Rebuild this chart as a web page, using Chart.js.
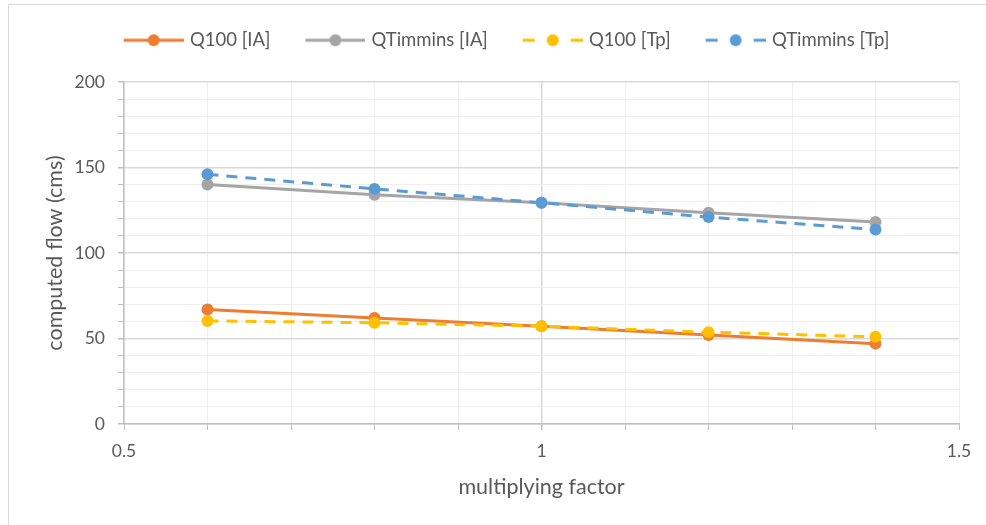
<!DOCTYPE html>
<html lang="en">
<head>
    <meta charset="UTF-8">
    <title>Computed flow vs multiplying factor</title>
    <style>
        body {
            margin: 0;
            padding: 0;
            background: #fff;
            overflow: hidden;
        }
        .frame {
            position: absolute;
            left: 8px;
            top: 4px;
            width: 1200px;
            height: 800px;
            border: 1px solid #d9d9d9;
        }
        canvas {
            position: absolute;
            left: 0;
            top: 0;
        }
    </style>
</head>
<body>
    <div class="frame"></div>
    <canvas id="flowChart" width="986" height="525"></canvas>

    <script src="https://cdn.jsdelivr.net/npm/chart.js"></script>
    <script>
        // values
        const factors = [0.6, 0.8, 1.0, 1.2, 1.4];
        const q100IA = [67, 62, 57.2, 52, 47];
        const qTimminsIA = [140, 134, 129.4, 123.5, 118.2];
        const q100Tp = [60.3, 59.2, 57.2, 53.7, 51];
        const qTimminsTp = [146, 137.5, 129.4, 121, 113.7];
        const seriesNames = ['Q100 [IA]', 'QTimmins [IA]', 'Q100 [Tp]', 'QTimmins [Tp]'];
        const colors = ['#ED7D31', '#A5A5A5', '#FFC000', '#5B9BD5'];

        const textColor = '#595959';
        const fontFamily = 'Lato, "Liberation Sans", sans-serif';
        const boxW = 88;     // legend box width (blank + icon)
        const iconLen = 60;  // visible part of the legend icon
        const padLeft = 23;

        // legend icon: line with a dot, dashed for the Tp series
        // canvas is 6px wider than the box so the line sits closer to the text
        function makeIcon(color, dashed) {
            const c = document.createElement('canvas');
            c.width = boxW + 6;
            c.height = 14;
            const g = c.getContext('2d');
            const x0 = c.width - iconLen;
            g.strokeStyle = color;
            g.lineWidth = 3;
            g.beginPath();
            if (dashed) {
                g.moveTo(x0, 7); g.lineTo(x0 + 12, 7);
                g.moveTo(x0 + iconLen - 12, 7); g.lineTo(x0 + iconLen, 7);
            } else {
                g.moveTo(x0, 7); g.lineTo(x0 + iconLen, 7);
            }
            g.stroke();
            g.fillStyle = color;
            g.beginPath();
            g.arc(x0 + iconLen / 2, 7, 6, 0, Math.PI * 2);
            g.fill();
            return c;
        }

        function toPoints(values) {
            return factors.map((f, i) => ({ x: f, y: values[i] }));
        }

        const allValues = [q100IA, qTimminsIA, q100Tp, qTimminsTp];
        const datasets = allValues.map((vals, i) => ({
            label: seriesNames[i],
            data: toPoints(vals),
            borderColor: colors[i],
            backgroundColor: colors[i],
            pointBackgroundColor: colors[i],
            pointBorderColor: colors[i],
            borderWidth: 3,
            borderDash: i >= 2 ? [11, 8] : [],
            pointRadius: 6,
            pointBorderWidth: 0,
            tension: 0,
            fill: false,
            order: 3 - i
        }));

        const icons = colors.map((c, i) => makeIcon(c, i >= 2));

        // make the legend box tall enough to push the plot down
        const legendHeight = {
            id: 'legendHeight',
            beforeInit(chart) {
                const fit = chart.legend.fit;
                chart.legend.fit = function () {
                    fit.bind(chart.legend)();
                    this.height = 55;
                };
            }
        };

        const isHalf = v => Math.abs(v * 2 - Math.round(v * 2)) < 1e-6;

        window.onload = function () {
            const ctx = document.getElementById('flowChart').getContext('2d');
            new Chart(ctx, {
                type: 'line',
                data: { datasets: datasets },
                plugins: [legendHeight],
                options: {
                    responsive: false,
                    animation: false,
                    layout: { padding: { top: 27, right: 27, bottom: 0, left: padLeft } },
                    plugins: {
                        tooltip: { enabled: false },
                        legend: {
                            position: 'top',
                            labels: {
                                usePointStyle: true,
                                pointStyleWidth: boxW,
                                padding: 4,
                                color: textColor,
                                font: { family: fontFamily, size: 18.5 },
                                generateLabels: () => seriesNames.map((name, i) => ({
                                    text: name,
                                    pointStyle: icons[i],
                                    fontColor: textColor,
                                    lineWidth: 0,
                                    strokeStyle: colors[i],
                                    fillStyle: colors[i],
                                    datasetIndex: i
                                }))
                            }
                        }
                    },
                    scales: {
                        x: {
                            type: 'linear',
                            min: 0.5,
                            max: 1.5,
                            afterFit: s => { s.height = 101; },
                            ticks: {
                                stepSize: 0.1,
                                autoSkip: false,
                                maxRotation: 0,
                                padding: 11,
                                color: textColor,
                                font: { family: fontFamily, size: 17.5 },
                                callback: v => isHalf(v) ? String(Math.round(v * 2) / 2) : ''
                            },
                            grid: {
                                color: c => (c.tick && Math.abs(c.tick.value - 1) < 1e-6) ? '#d9d9d9' : '#efefef',
                                lineWidth: c => (c.tick && Math.abs(c.tick.value - 1) < 1e-6) ? 1.5 : 1,
                                tickColor: '#bfbfbf',
                                tickLength: 6
                            },
                            border: { color: '#bfbfbf', width: 1.5 },
                            title: {
                                display: true,
                                text: 'multiplying factor',
                                color: textColor,
                                font: { family: fontFamily, size: 21.5 },
                                padding: { top: 0, bottom: 25 }
                            }
                        },
                        y: {
                            min: 0,
                            max: 200,
                            afterFit: s => { s.width = 124 - padLeft; },
                            ticks: {
                                stepSize: 10,
                                autoSkip: false,
                                padding: 13,
                                color: textColor,
                                font: { family: fontFamily, size: 17.5 },
                                callback: v => v % 50 === 0 ? String(v) : ''
                            },
                            grid: {
                                color: c => (c.tick && c.tick.value % 50 === 0) ? '#d9d9d9' : '#efefef',
                                lineWidth: c => (c.tick && c.tick.value % 50 === 0) ? 1.5 : 1,
                                tickColor: '#bfbfbf',
                                tickLength: 6
                            },
                            border: { color: '#bfbfbf', width: 1.5 },
                            title: {
                                display: true,
                                text: 'computed flow (cms)',
                                color: textColor,
                                font: { family: fontFamily, size: 21.5 },
                                padding: { top: 19, bottom: 0 }
                            }
                        }
                    }
                }
            });
        };
    </script>
</body>
</html>
